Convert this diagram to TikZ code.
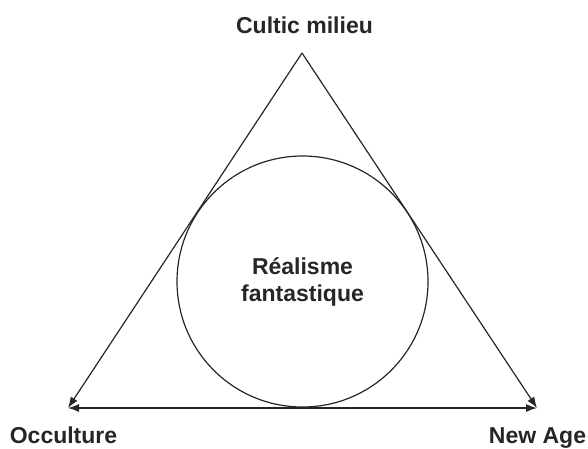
\documentclass[tikz,border=0pt]{standalone}
\usepackage{fontspec}
\setmainfont{Liberation Sans}
\usetikzlibrary{arrows.meta}
\begin{document}
\begin{tikzpicture}[x=1pt,y=-1pt,
  lbl/.style={font=\fontsize{23}{27}\selectfont\bfseries, text=black!85, inner sep=0pt},
  edge/.style={line width=1.2pt, draw=black!85, -{Latex[length=11pt,width=8pt]}},
  base/.style={line width=1.2pt, draw=black!85, {Latex[length=11pt,width=8pt]}-{Latex[length=11pt,width=8pt]}}]
\useasboundingbox (0,0) rectangle (588,448);
\coordinate (A) at (302,53);
\coordinate (L) at (68,408);
\coordinate (R) at (537,408);
\node[circle, draw=black!85, line width=1.2pt, minimum size=251pt, inner sep=0pt,
  align=center, font=\fontsize{23}{27}\selectfont\bfseries, text=black!85] (C) at (302.5,281.5) {Réalisme\\fantastique};
\draw[edge] (A) -- (L);
\draw[edge] (A) -- (R);
\draw[base] (L) -- (R);
\node[lbl, anchor=base] (t1) at (304.5,33) {Cultic milieu};
\node[lbl, anchor=base] (t2) at (63.5,443) {Occulture};
\node[lbl, anchor=base] (t3) at (537.5,443) {New Age};
\end{tikzpicture}
\end{document}
